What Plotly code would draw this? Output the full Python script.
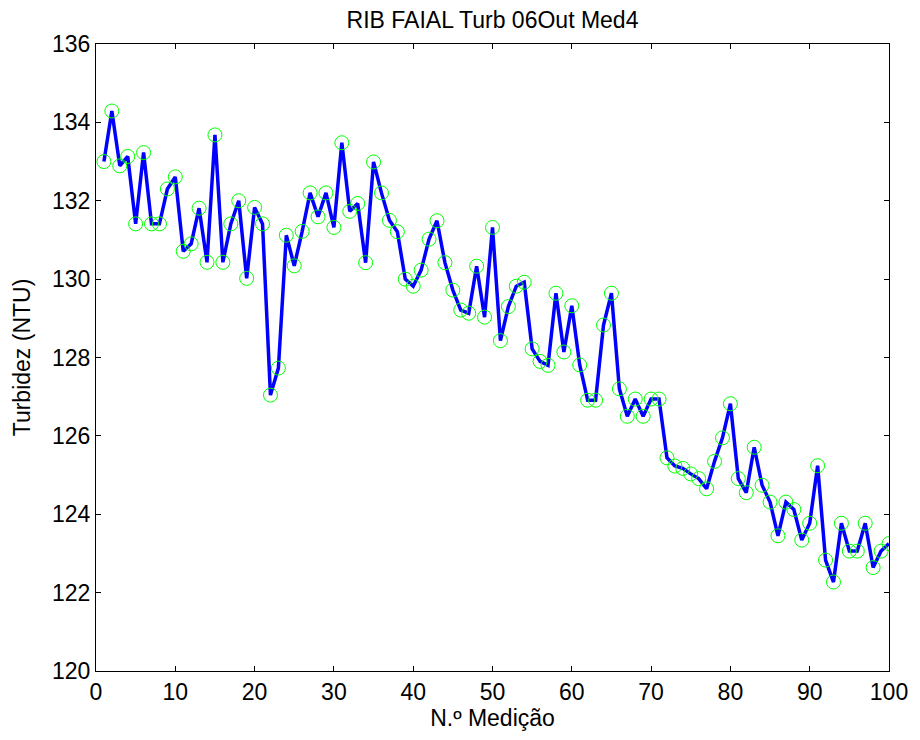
import plotly.graph_objects as go

medicao = list(range(1, 101))
turbidez = [
    133.0, 134.29, 132.89, 133.13, 131.41, 133.23, 131.41, 131.41, 132.30, 132.61,
    130.71, 130.90, 131.81, 130.43, 133.68, 130.43, 131.41, 132.00, 130.02, 131.83,
    131.41, 127.04, 127.73, 131.12, 130.34, 131.22, 132.20, 131.59, 132.20, 131.32,
    133.48, 131.73, 131.93, 130.42, 132.99, 132.20, 131.50, 131.21, 130.00, 129.82,
    130.23, 131.02, 131.49, 130.42, 129.72, 129.21, 129.13, 130.33, 129.03, 131.32,
    128.43, 129.30, 129.82, 129.92, 128.22, 127.90, 127.80, 129.64, 128.14, 129.32,
    127.81, 126.91, 126.91, 128.83, 129.64, 127.20, 126.50, 126.94, 126.50, 126.94,
    126.94, 125.44, 125.23, 125.17, 125.03, 124.91, 124.65, 125.35, 125.95, 126.82,
    124.91, 124.55, 125.71, 124.74, 124.31, 123.45, 124.31, 124.12, 123.34, 123.77,
    125.24, 122.83, 122.27, 123.77, 123.06, 123.06, 123.77, 122.64, 123.06, 123.25,
]
x_ticks = [0, 10, 20, 30, 40, 50, 60, 70, 80, 90, 100]
y_ticks = [120, 122, 124, 126, 128, 130, 132, 134, 136]

fig = go.Figure()
fig.add_trace(go.Scatter(
    x=medicao, y=turbidez, mode="lines",
    line=dict(color="#0000ff", width=3.5),
    showlegend=False,
))
fig.add_trace(go.Scatter(
    x=medicao, y=turbidez, mode="markers",
    marker=dict(symbol="circle-open", size=14, color="#00ff00", line=dict(width=1, color="#00ff00")),
    showlegend=False,
))

font_family = "Liberation Sans, Arial, sans-serif"
fig.update_layout(
    width=920, height=740,
    margin=dict(l=96, r=26, t=44, b=69),
    paper_bgcolor="white", plot_bgcolor="white",
    font=dict(family=font_family, color="black", size=22),
    title=dict(text="RIB FAIAL Turb 06Out Med4", x=0.5, xref="paper", xanchor="center",
               y=1 - 20 / 740, yanchor="middle", font=dict(size=23, color="black")),
    xaxis=dict(range=[0, 100], tickvals=x_ticks, ticks="inside", ticklen=5,
               tickcolor="black", showline=True, linecolor="black", linewidth=1,
               mirror="ticks", showgrid=False, zeroline=False,
               title=dict(text="N.º Medição", font=dict(size=23), standoff=4),
               tickfont=dict(size=23)),
    yaxis=dict(range=[120, 136], tickvals=y_ticks, ticks="inside", ticklen=5,
               tickcolor="black", showline=True, linecolor="black", linewidth=1,
               mirror="ticks", showgrid=False, zeroline=False,
               title=dict(text="Turbidez (NTU)", font=dict(size=23), standoff=14),
               tickfont=dict(size=23)),
)
fig.write_html("out.html")
